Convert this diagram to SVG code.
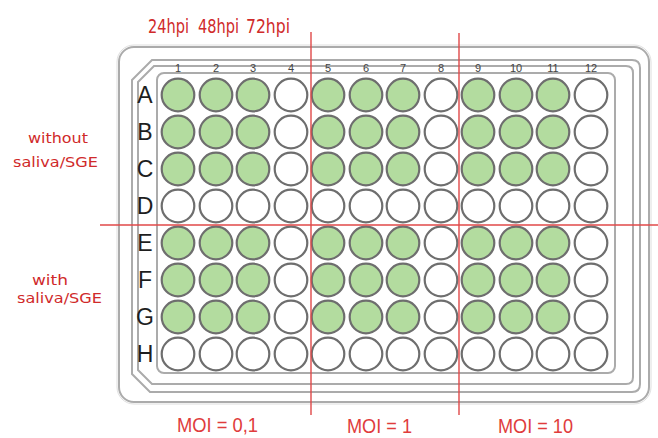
<svg xmlns="http://www.w3.org/2000/svg" width="658" height="438" viewBox="0 0 658 438">
<style>
.frame{fill:none;stroke:#ababab;stroke-width:2}
.w{stroke:#6e6e6e;stroke-width:2.2;fill:#ffffff}
.g{fill:#b3dc9f}
.row{font-family:"Liberation Sans",Arial,sans-serif;font-size:23px;fill:#1e1e1e;text-anchor:middle}
.col{font-family:"Liberation Sans",Arial,sans-serif;font-size:11px;fill:#444;text-anchor:middle}
.red{font-family:"DejaVu Sans Condensed","Liberation Sans",sans-serif;fill:#d02a2a}
.moi{font-family:"Liberation Sans",Arial,sans-serif;font-size:20px;fill:#e03c3c}
.rl{stroke:#e04848;stroke-width:1.4;fill:none}
</style>
<rect width="658" height="438" fill="#ffffff"/>
<g id="plate">
<rect x="117" y="45" width="534" height="359" rx="17" fill="none" stroke="#dedede" stroke-width="1"/>
<rect x="119" y="47" width="530" height="355" rx="15" class="frame"/>
<path class="frame" d="M132,80 L152,60 L632,60 Q640,60 640,68 L640,384 Q640,392 632,392 L150,392 L132,374 Z"/>
<path class="frame" d="M138,82 L154,66 L626,66 Q633,66 633,73 L633,377 Q633,384 626,384 L152,384 L138,370 Z"/>
<rect x="157" y="73" width="458" height="300" rx="7" class="frame"/>
</g>
<g id="col-labels">
<text class="col" x="178" y="72">1</text><text class="col" x="216" y="72">2</text><text class="col" x="253" y="72">3</text><text class="col" x="291" y="72">4</text><text class="col" x="328" y="72">5</text><text class="col" x="366" y="72">6</text><text class="col" x="403" y="72">7</text><text class="col" x="441" y="72">8</text><text class="col" x="478" y="72">9</text><text class="col" x="516" y="72">10</text><text class="col" x="553" y="72">11</text><text class="col" x="591" y="72">12</text>
</g>
<g id="row-labels">
<text class="row" x="145" y="103">A</text><text class="row" x="145" y="140">B</text><text class="row" x="145" y="177">C</text><text class="row" x="145" y="214">D</text><text class="row" x="145" y="251">E</text><text class="row" x="145" y="288">F</text><text class="row" x="145" y="325">G</text><text class="row" x="145" y="362">H</text>
</g>
<defs>
<g id="rowG">
<circle class="w g" cx="178" cy="0" r="16.3"/><circle class="w g" cx="216" cy="0" r="16.3"/><circle class="w g" cx="253" cy="0" r="16.3"/><circle class="w" cx="291" cy="0" r="16.3"/>
<circle class="w g" cx="328" cy="0" r="16.3"/><circle class="w g" cx="366" cy="0" r="16.3"/><circle class="w g" cx="403" cy="0" r="16.3"/><circle class="w" cx="441" cy="0" r="16.3"/>
<circle class="w g" cx="478" cy="0" r="16.3"/><circle class="w g" cx="516" cy="0" r="16.3"/><circle class="w g" cx="553" cy="0" r="16.3"/><circle class="w" cx="591" cy="0" r="16.3"/>
</g>
<g id="rowW">
<circle class="w" cx="178" cy="0" r="16.3"/><circle class="w" cx="216" cy="0" r="16.3"/><circle class="w" cx="253" cy="0" r="16.3"/><circle class="w" cx="291" cy="0" r="16.3"/>
<circle class="w" cx="328" cy="0" r="16.3"/><circle class="w" cx="366" cy="0" r="16.3"/><circle class="w" cx="403" cy="0" r="16.3"/><circle class="w" cx="441" cy="0" r="16.3"/>
<circle class="w" cx="478" cy="0" r="16.3"/><circle class="w" cx="516" cy="0" r="16.3"/><circle class="w" cx="553" cy="0" r="16.3"/><circle class="w" cx="591" cy="0" r="16.3"/>
</g>
</defs>
<g id="wells">
<use href="#rowG" y="95"/><use href="#rowG" y="132"/><use href="#rowG" y="169"/><use href="#rowW" y="206"/>
<use href="#rowG" y="243"/><use href="#rowG" y="280"/><use href="#rowG" y="317"/><use href="#rowW" y="354"/>
</g>
<g id="connectors">
<line class="rl" x1="311" y1="32" x2="311" y2="415"/>
<line class="rl" x1="459" y1="33" x2="459" y2="415"/>
<line class="rl" x1="100" y1="225" x2="658" y2="225"/>
</g>
<g id="labels">
<text class="red" x="148" y="33" font-size="19" textLength="41" lengthAdjust="spacingAndGlyphs">24hpi</text>
<text class="red" x="198" y="33" font-size="19" textLength="41" lengthAdjust="spacingAndGlyphs">48hpi</text>
<text class="red" x="246" y="33" font-size="19" textLength="44" lengthAdjust="spacingAndGlyphs">72hpi</text>
<text class="red" x="28" y="143" font-size="14" textLength="60" lengthAdjust="spacingAndGlyphs">without</text>
<text class="red" x="13" y="167" font-size="14" textLength="85" lengthAdjust="spacingAndGlyphs">saliva/SGE</text>
<text class="red" x="32" y="285" font-size="14" textLength="36" lengthAdjust="spacingAndGlyphs">with</text>
<text class="red" x="17" y="303" font-size="14" textLength="85" lengthAdjust="spacingAndGlyphs">saliva/SGE</text>
<text class="moi" x="177" y="432" textLength="81" lengthAdjust="spacingAndGlyphs">MOI = 0,1</text>
<text class="moi" x="347" y="433" textLength="65" lengthAdjust="spacingAndGlyphs">MOI = 1</text>
<text class="moi" x="498" y="433" textLength="75" lengthAdjust="spacingAndGlyphs">MOI = 10</text>
</g>
</svg>
